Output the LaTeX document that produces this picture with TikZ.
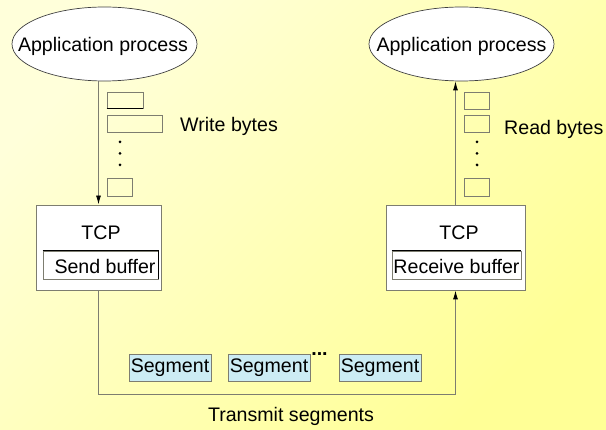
\documentclass[tikz,border=0pt]{standalone}
\usepackage{fontspec}
\setmainfont{Liberation Sans}
\usetikzlibrary{shapes.geometric,arrows.meta}
\definecolor{bgA}{RGB}{255,255,218}
\definecolor{bgB}{RGB}{255,255,150}
\definecolor{edge}{RGB}{125,125,112}
\definecolor{segfill}{RGB}{204,236,244}
\tikzset{
  every node/.style={font=\fontsize{19.6}{23}\selectfont, inner sep=0pt},
  proc/.style={ellipse, draw=black!75, line width=0.7pt, fill=white,
    minimum width=185pt, minimum height=74pt},
  tcpbox/.style={rectangle, draw=edge, line width=0.9pt, fill=white,
    minimum height=85pt},
  bufbox/.style={rectangle, draw=edge, line width=0.8pt, fill=white,
    minimum height=28pt},
  bytebox/.style={rectangle, draw=edge, line width=0.8pt},
  segbox/.style={rectangle, draw=edge, line width=0.8pt, fill=segfill,
    minimum width=82pt, minimum height=27pt},
  flow/.style={draw=edge, line width=0.9pt,
    -{Latex[length=9pt,width=5pt,color=black]}},
  dot/.style={circle, fill=black, minimum size=3pt},
}
\begin{document}
\begin{tikzpicture}[x=1pt,y=-1pt]
  % background
  \useasboundingbox (0,0) rectangle (606,430);
  \shade[top color=bgA, bottom color=bgB, shading angle=45] (0,0) rectangle (606,430);

  % application processes
  \node[proc] (appL) at (104.5,44) {};
  \node (appLt) at (103,46) {Application process};
  \node[proc] (appR) at (461.5,44) {};
  \node (appRt) at (461.5,46) {Application process};

  % TCP entities
  \node[tcpbox, minimum width=125pt] (tcpL) at (98.5,247.5) {};
  \node[tcpbox, minimum width=139pt] (tcpR) at (455.5,247.5) {};
  \node (tcpLt) at (101,233) {TCP};
  \node (tcpRt) at (459,233) {TCP};

  % buffers
  \node[bufbox, minimum width=115pt] (sendbuf) at (100.5,265) {};
  \draw[black, line width=0.8pt] (sendbuf.north west) -- (sendbuf.north east) -- (sendbuf.south east);
  \node (sendt) at (105,266) {Send buffer};
  \node[bufbox, minimum width=129pt] (recvbuf) at (456.5,265) {};
  \draw[black, line width=0.8pt] (recvbuf.north west) -- (recvbuf.north east);
  \node (recvt) at (456.5,266) {Receive buffer};

  % written bytes
  \node[bytebox, minimum width=36pt, minimum height=16pt] (wb1) at (125,100) {};
  \draw[black, line width=0.8pt] (wb1.south west) -- (wb1.south east);
  \node[bytebox, minimum width=55pt, minimum height=17pt] (wb2) at (134.5,123.5) {};
  \node[bytebox, minimum width=25pt, minimum height=18pt] (wb3) at (119.5,187) {};
  \node[dot] (wd1) at (120,142) {};
  \node[dot] (wd2) at (120,153.5) {};
  \node[dot] (wd3) at (120,165) {};
  \node[anchor=west] (write) at (180,126) {Write bytes};

  % read bytes
  \node[bytebox, minimum width=25pt, minimum height=17pt] (rb1) at (476.5,100.5) {};
  \node[bytebox, minimum width=25pt, minimum height=17pt] (rb2) at (476.5,123.5) {};
  \node[bytebox, minimum width=25pt, minimum height=18pt] (rb3) at (476.5,187) {};
  \node[dot] (rd1) at (477,142) {};
  \node[dot] (rd2) at (477,153.5) {};
  \node[dot] (rd3) at (477,165) {};
  \node[anchor=west] (read) at (504,129) {Read bytes};

  % segments in transit
  \node[segbox] (seg1) at (170,367.5) {Segment};
  \node[segbox] (seg2) at (269,367.5) {Segment};
  \node[segbox] (seg3) at (380,367.5) {Segment};
  \node[anchor=base, font=\fontsize{19.6}{23}\selectfont\bfseries] (more) at (319.5,355.5) {...};
  \node (transmit) at (291,416) {Transmit segments};

  % data flow
  \coordinate (low) at (98.5,394);
  \draw[flow] (tcpL.north |- appL.south) -- (tcpL.north);
  \draw[flow] (tcpR.north) -- (tcpR.north |- appR.south);
  \draw[flow] (tcpL.south) -- (low) -| (tcpR.south);
\end{tikzpicture}
\end{document}
